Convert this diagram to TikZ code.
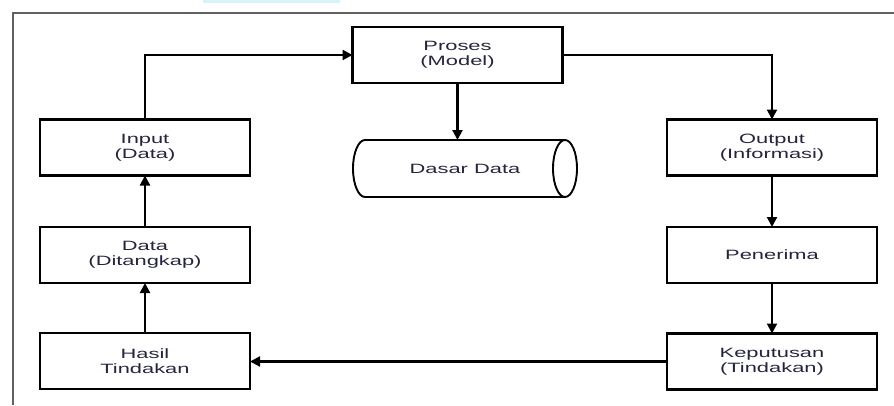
\documentclass[tikz,border=0pt]{standalone}
\usepackage{fontspec}
\setmainfont{Liberation Sans}[FakeStretch=1.62]
\usetikzlibrary{arrows.meta}
\definecolor{ink}{rgb}{0.14,0.14,0.24}
\definecolor{framegray}{rgb}{0.38,0.38,0.38}
\definecolor{tabcyan}{rgb}{0.84,0.95,0.98}
\tikzset{
  box/.style={draw=black, line width=2.2pt, minimum width=210pt, minimum height=56pt,
    inner sep=0pt, outer sep=0pt, align=center, text=ink,
    font=\fontsize{13.5}{15}\selectfont},
  flow/.style={line width=2.1pt, -{Triangle[length=10pt,width=10pt]}},
  frameline/.style={draw=framegray, line width=2.2pt}
}
\begin{document}
\begin{tikzpicture}[x=1pt,y=-1pt]
  \useasboundingbox (0,0) rectangle (894,405);
  % page frame and tab
  \fill[tabcyan] (203,0) rectangle (340,2.5);
  \draw[frameline] (13,405) -- (13,13) -- (894,13);

  % process boxes
  \node[box] (proses) at (457.5,55) {Proses\\(Model)};
  \node[box] (input) at (145,147.5) {Input\\(Data)};
  \node[box] (data) at (145,255) {Data\\(Ditangkap)};
  \node[box] (hasil) at (145,361) {Hasil\\Tindakan};
  \node[box] (output) at (772,147.5) {Output\\(Informasi)};
  \node[box] (penerima) at (772,255) {Penerima};
  \node[box] (keputusan) at (772,361.5) {Keputusan\\(Tindakan)};

  % database drum
  \node[box, draw=none, minimum width=200pt, minimum height=57pt] (db) at (465,168.5) {Dasar Data};
  \draw[line width=1.9pt]
    (db.north west) -- (db.north east)
    (db.south west) -- (db.south east)
    (db.north west) arc[start angle=90, end angle=270, x radius=12pt, y radius=28.5pt];
  \draw[line width=1.9pt] (db.east) ellipse[x radius=12pt, y radius=28.5pt];

  % connectors
  \draw[flow] (input.north) |- (proses.west);
  \draw[flow] (proses.east) -| (output.north);
  \draw[flow] (proses.south) -- (proses.south |- db.north);
  \draw[flow] (output.south) -- (penerima.north);
  \draw[flow] (penerima.south) -- (keputusan.north);
  \draw[flow] (keputusan.west) -- (keputusan.west -| hasil.east);
  \draw[flow] (hasil.north) -- (data.south);
  \draw[flow] (data.north) -- (input.south);
\end{tikzpicture}
\end{document}
